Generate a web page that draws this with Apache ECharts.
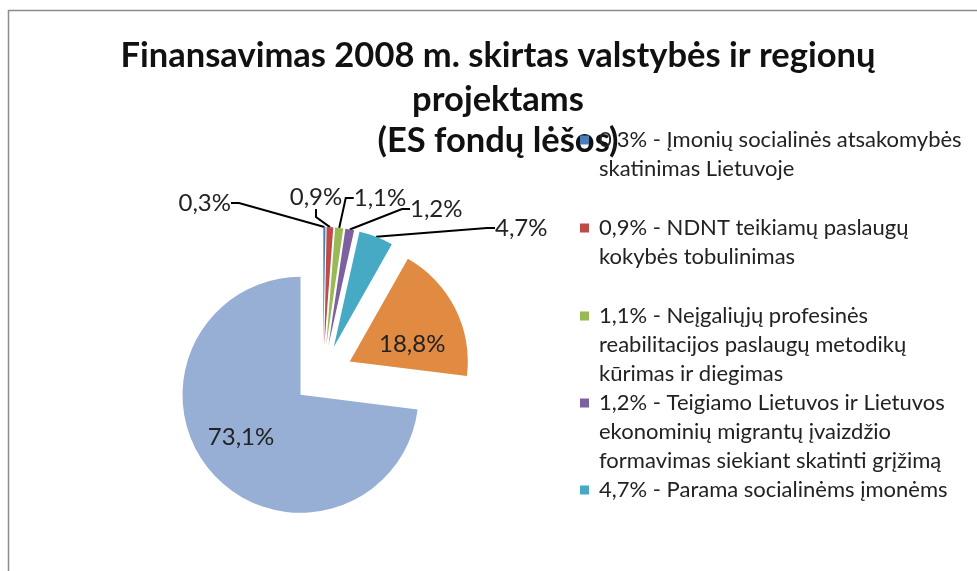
<!DOCTYPE html>
<html><head><meta charset="utf-8">
<script src="https://cdn.jsdelivr.net/npm/echarts@6/dist/echarts.min.js"></script>
<style>html,body{margin:0;padding:0;background:#fff}#c{width:977px;height:571px}</style>
</head><body><div id="c"></div>
<script>
const titleLines = ['Finansavimas 2008 m. skirtas valstybės ir regionų', 'projektams', '(ES fondų lėšos)'];
const categories = [
  'Įmonių socialinės atsakomybės skatinimas Lietuvoje',
  'NDNT teikiamų paslaugų kokybės tobulinimas',
  'Neįgaliųjų profesinės reabilitacijos paslaugų metodikų kūrimas ir diegimas',
  'Teigiamo Lietuvos ir Lietuvos ekonominių migrantų įvaizdžio formavimas siekiant skatinti grįžimą',
  'Parama socialinėms įmonėms',
  'Kiti projektai A',
  'Kiti projektai B'
];
const values = [0.3, 0.9, 1.1, 1.2, 4.7, 18.8, 73.1];
const legendLabels = [
  '0,3% - Įmonių socialinės atsakomybės\nskatinimas Lietuvoje',
  '0,9% - NDNT teikiamų paslaugų\nkokybės tobulinimas',
  '1,1% - Neįgaliųjų profesinės\nreabilitacijos paslaugų metodikų\nkūrimas ir diegimas',
  '1,2% - Teigiamo Lietuvos ir Lietuvos\nekonominių migrantų įvaizdžio\nformavimas siekiant skatinti grįžimą',
  '4,7% - Parama socialinėms įmonėms'
];
const colors = ['#4A7EBB', '#BE4B48', '#98B954', '#7D60A0', '#46AAC5', '#E08A42', '#97AED5'];

const FONT = 'Lato';
const LH = 29;
const fmt = v => v.toFixed(1).replace('.', ',') + '%';
const names = categories.map((c, i) => fmt(values[i]) + ' - ' + c);
const insideIdx = [5, 6];
const outsideLabelPos = {
  0: {x: 231, y: 203, align: 'right'},
  1: {x: 316, y: 197, align: 'center'},
  2: {x: 380, y: 198, align: 'center'},
  3: {x: 410, y: 209, align: 'left'},
  4: {x: 495, y: 228, align: 'left'}
};
const insideLabelShift = {5: [7, 11], 6: [-13, 1]};
const legendFirstLine = [140, 228, 316, 403, 490];

const CENTER = [323, 375], R = 118, EXPLODE = 30;

const chart = echarts.init(document.getElementById('c'), null, {renderer: 'canvas'});
const option = {
  animation: false,
  backgroundColor: '#fff',
  title: {
    text: '{a|' + titleLines[0] + '}\n{a|' + titleLines[1] + '}\n{b|' + titleLines[2] + '}',
    left: 498, top: 34, textAlign: 'center', padding: 0, z: 1,
    textStyle: {
      fontFamily: FONT, fontWeight: 'bold', fontSize: 34.5, color: '#111',
      rich: {
        a: {fontFamily: FONT, fontWeight: 'bold', fontSize: 34.5, lineHeight: 44, color: '#111'},
        b: {fontFamily: FONT, fontWeight: 'bold', fontSize: 34.5, lineHeight: 37, color: '#111'}
      }
    }
  },
  graphic: [{
    type: 'polyline', silent: true,
    shape: {points: [[8.5, 571], [8.5, 10.5], [977, 10.5]]},
    style: {stroke: '#8c8c8c', lineWidth: 1.5, fill: null}
  }],
  legend: legendLabels.map((txt, i) => {
    const n = txt.split('\n').length;
    const H = (n - 1) * LH + 9;
    return {
      z: 10,
      data: [{name: names[i], icon: 'path://M0,0H9V9H0Z M0,' + (H - 0.01) + 'H0.01V' + H + 'H0Z'}],
      orient: 'vertical', left: 580, top: legendFirstLine[i] - LH / 2,
      padding: 0, itemWidth: 9, itemHeight: H, selectedMode: false,
      formatter: () => txt,
      textStyle: {fontFamily: FONT, fontSize: 22, lineHeight: LH, color: '#222', padding: [0, 0, 0, 5]}
    };
  }),
  series: [{
    type: 'pie', name: 'main',
    center: CENTER, radius: R, startAngle: 90, clockwise: true,
    selectedMode: 'multiple', selectedOffset: EXPLODE,
    avoidLabelOverlap: false,
    emphasis: {disabled: true},
    label: {show: true, position: 'inside', formatter: p => fmt(p.value), fontFamily: FONT, fontSize: 24, color: '#222'},
    labelLine: {show: false},
    labelLayout: params => {
      const s = insideLabelShift[params.dataIndex];
      return s ? {dx: s[0], dy: s[1]} : {};
    },
    data: values.map((v, i) => ({
      value: v, name: names[i], selected: true,
      itemStyle: {color: colors[i]},
      label: {show: insideIdx.includes(i)}
    }))
  }, {
    type: 'pie', name: 'labels', silent: true,
    center: CENTER, radius: R + EXPLODE, startAngle: 90, clockwise: true,
    avoidLabelOverlap: false,
    emphasis: {disabled: true},
    itemStyle: {color: 'rgba(0,0,0,0)'},
    label: {show: true, formatter: p => fmt(p.value), fontFamily: FONT, fontSize: 24, color: '#222'},
    labelLine: {show: true, length: 10, length2: 8, smooth: false, lineStyle: {color: '#000', width: 2}},
    labelLayout: params => {
      const o = outsideLabelPos[params.dataIndex];
      if (!o) return {};
      return {x: o.x, y: o.y, align: o.align, verticalAlign: 'middle'};
    },
    data: values.map((v, i) => ({
      value: v, name: names[i],
      label: {show: !insideIdx.includes(i)},
      labelLine: {show: !insideIdx.includes(i)}
    }))
  }]
};
chart.setOption(option);
</script></body></html>
